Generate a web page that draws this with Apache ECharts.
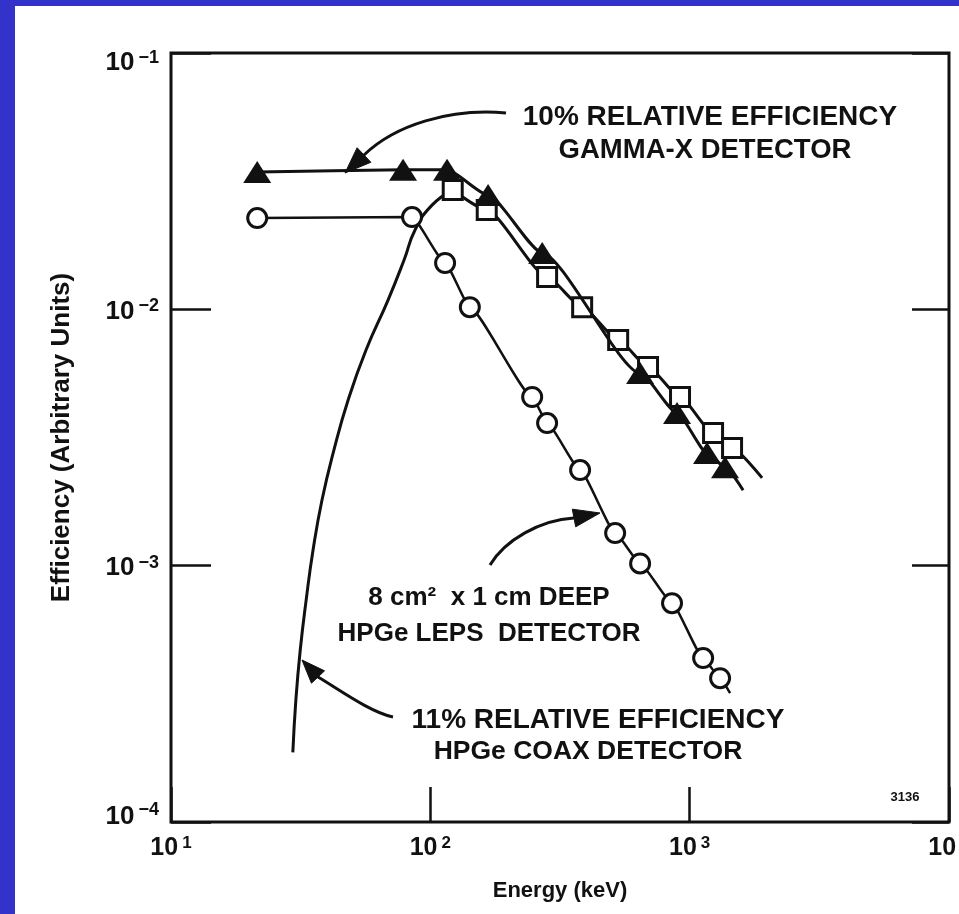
<!DOCTYPE html>
<html>
<head>
<meta charset="utf-8">
<script src="https://cdn.jsdelivr.net/npm/echarts@6/dist/echarts.min.js"></script>
<style>
html,body{margin:0;padding:0;background:#3333cc;width:959px;height:914px;overflow:hidden}
#c{position:absolute;left:15px;top:6px;width:944px;height:908px;background:#ffffff}
</style>
</head>
<body>
<div id="c"></div>
<script>
// ---------------- data ----------------
const energyTicks = [10, 100, 1000, 10000];
const effTicks = [1e-4, 1e-3, 1e-2, 1e-1];

// 10% relative efficiency GAMMA-X detector (filled triangles)
const gammaXEnergy = [21.5, 78.5, 116, 167, 270, 644, 894, 1167, 1369];
const gammaXEff    = [0.0343, 0.0350, 0.0350, 0.0279, 0.0166, 0.00564, 0.00394, 0.00275, 0.00242];
const gammaXLineEnd = [1607, 0.00197];

// 11% relative efficiency HPGe COAX detector: rising curve (no markers) ...
const coaxCurveEnergy = [29.5, 30.3, 31.5, 33.2, 35.3, 38.2, 42.5, 48.2, 56.5, 68.7, 79.2, 87.3, 101.5];
const coaxCurveEff    = [0.000187, 0.000299, 0.000468, 0.000734, 0.00115, 0.0018, 0.00283, 0.00443, 0.00694, 0.01087, 0.01558, 0.0204, 0.0255];
// ... then open squares
const coaxEnergy = [122, 165, 282, 385, 530, 691, 918, 1231, 1457];
const coaxEff    = [0.0292, 0.0244, 0.01336, 0.0102, 0.00759, 0.00596, 0.00455, 0.00329, 0.00288];
const coaxLineEnd = [1902, 0.0022];

// 8 cm2 x 1 cm deep HPGe LEPS detector (open circles)
const lepsEnergy = [21.5, 85, 114, 142, 247, 282, 378, 516, 644, 855, 1127, 1310];
const lepsEff    = [0.0227, 0.0229, 0.01516, 0.0102, 0.00455, 0.0036, 0.00236, 0.00134, 0.00102, 0.000714, 0.000436, 0.000364];
const lepsLineEnd = [1432, 0.000318];

// ---------------- chart ----------------
const FONT = '"Liberation Sans", Arial, Helvetica, sans-serif';
const INK = '#111111';
const chart = echarts.init(document.getElementById('c'), null, {renderer: 'canvas'});

function pts(xs, ys) { return xs.map((x, i) => [x, ys[i]]); }
function bare(p) { return {value: p, symbol: 'none'}; }

const gammaData = pts(gammaXEnergy, gammaXEff).concat([bare(gammaXLineEnd)]);
const coaxCurveData = pts(coaxCurveEnergy, coaxCurveEff).concat([[coaxEnergy[0], coaxEff[0]]]).map(bare);
const coaxData = pts(coaxEnergy, coaxEff).concat([bare(coaxLineEnd)]);
const lepsData = pts(lepsEnergy, lepsEff).concat([bare(lepsLineEnd)]);

// page -> container coordinates (container is offset by the blue frame)
const OX = 15, OY = 6;
function P(x, y) { return [x - OX, y - OY]; }

function txt(s, cx, cy, size) {
  const p = P(cx, cy);
  return {type: 'text', x: p[0], y: p[1], z: 10,
    style: {text: s, fill: INK, font: 'bold ' + size + 'px ' + FONT, align: 'center', verticalAlign: 'middle'}};
}
function arrow(start, c1, c2, base, tip, w) {
  const s = P(...start), a = P(...c1), b = P(...c2), e = P(...base), t = P(...tip);
  const dx = t[0] - e[0], dy = t[1] - e[1], L = Math.hypot(dx, dy);
  const nx = -dy / L * w / 2, ny = dx / L * w / 2;
  return [
    {type: 'bezierCurve', z: 10, shape: {x1: s[0], y1: s[1], cpx1: a[0], cpy1: a[1], cpx2: b[0], cpy2: b[1], x2: e[0], y2: e[1]},
     style: {stroke: INK, lineWidth: 3, fill: null}},
    {type: 'polygon', z: 10, shape: {points: [t, [e[0] + nx, e[1] + ny], [e[0] - nx, e[1] - ny]]},
     style: {fill: INK, stroke: INK, lineWidth: 1}}
  ];
}

const yRich = {};
[['t', [20, 0, 0, 0], [10, 0, 0, 4]], ['n', [4, 0, 0, 0], [0, 0, 6, 4]], ['m', [0, 0, 10, 0], [0, 0, 24, 4]]]
  .forEach(([k, pb, ps]) => {
    yRich['b' + k] = {fontSize: 26, fontWeight: 'bold', fontFamily: FONT, color: INK, lineHeight: 26, padding: pb};
    yRich['s' + k] = {fontSize: 18, fontWeight: 'bold', fontFamily: FONT, color: INK, lineHeight: 18, padding: ps};
  });

const markerStyle = {color: '#ffffff', borderColor: INK, borderWidth: 3};

const option = {
  animation: false,
  backgroundColor: '#ffffff',
  grid: {left: 156, top: 47, right: 10, bottom: 92, outerBoundsMode: 'none', containLabel: false,
         show: true, borderColor: INK, borderWidth: 3, backgroundColor: 'transparent'},
  xAxis: {
    type: 'log', logBase: 10, min: energyTicks[0], max: energyTicks[energyTicks.length - 1],
    axisLine: {show: false},
    axisTick: {show: true, inside: true, length: 35, lineStyle: {color: INK, width: 2.5}},
    splitLine: {show: false}, minorTick: {show: false},
    axisLabel: {
      margin: 13, showMinLabel: true, showMaxLabel: true, hideOverlap: false,
      formatter: v => '{b|10}{s|' + Math.round(Math.log10(v)) + '}',
      rich: {
        b: {fontSize: 25, fontWeight: 'bold', fontFamily: FONT, color: INK, lineHeight: 26},
        s: {fontSize: 17, fontWeight: 'bold', fontFamily: FONT, color: INK, lineHeight: 16, padding: [0, 0, 10, 4]}
      }
    },
    name: 'Energy (keV)', nameLocation: 'middle', nameGap: 58,
    nameTextStyle: {fontSize: 22, fontWeight: 'bold', fontFamily: FONT, color: INK}
  },
  yAxis: [{
    type: 'log', logBase: 10, min: effTicks[0], max: effTicks[effTicks.length - 1], position: 'left',
    axisLine: {show: false},
    axisTick: {show: true, inside: true, length: 40, lineStyle: {color: INK, width: 2.5}},
    splitLine: {show: false}, minorTick: {show: false},
    axisLabel: {
      margin: 12, showMinLabel: true, showMaxLabel: true, hideOverlap: false,
      formatter: v => {
        const e = Math.round(Math.log10(v));
        const k = e === -1 ? 't' : (e === -4 ? 'm' : 'n');
        return '{b' + k + '|10}{s' + k + '|\u2212' + (-e) + '}';
      },
      rich: yRich
    },
    name: 'Efficiency (Arbitrary Units)', nameLocation: 'middle', nameGap: 96, nameRotate: 90,
    nameTextStyle: {fontSize: 26, fontWeight: 'bold', fontFamily: FONT, color: INK}
  }, {
    type: 'log', logBase: 10, min: effTicks[0], max: effTicks[effTicks.length - 1], position: 'right',
    axisLine: {show: false},
    axisTick: {show: true, inside: true, length: 37, lineStyle: {color: INK, width: 2.5}},
    splitLine: {show: false}, minorTick: {show: false},
    axisLabel: {show: false}
  }],
  series: [
    {
      name: '11% HPGe COAX curve', type: 'line', data: coaxCurveData, z: 2,
      symbol: 'none', smooth: 0.5,
      lineStyle: {color: INK, width: 3}, emphasis: {disabled: true}
    },
    {
      name: '11% HPGe COAX', type: 'line', data: coaxData, z: 2,
      symbol: 'rect', symbolSize: 19, showAllSymbol: true, smooth: 0.2, smoothMonotone: 'x',
      lineStyle: {color: INK, width: 3}, itemStyle: markerStyle, emphasis: {disabled: true}
    },
    {
      name: 'HPGe LEPS', type: 'line', data: lepsData, z: 3,
      symbol: 'circle', symbolSize: 19, showAllSymbol: true, smooth: 0.15, smoothMonotone: 'x',
      lineStyle: {color: INK, width: 2.5}, itemStyle: markerStyle, emphasis: {disabled: true}
    },
    {
      name: '10% GAMMA-X', type: 'line', data: gammaData, z: 4,
      symbol: 'triangle', symbolSize: [28, 22], showAllSymbol: true, smooth: 0.2, smoothMonotone: 'x',
      lineStyle: {color: INK, width: 3}, itemStyle: {color: INK}, emphasis: {disabled: true}
    }
  ],
  graphic: [
    txt('10% RELATIVE EFFICIENCY', 710, 117, 28),
    txt('GAMMA-X DETECTOR', 705, 150, 27.5),
    txt('8 cm\u00B2  x 1 cm DEEP', 489, 598, 26),
    txt('HPGe LEPS  DETECTOR', 489, 634, 26),
    txt('11% RELATIVE EFFICIENCY', 598, 720, 28),
    txt('HPGe COAX DETECTOR', 588, 752, 26.5),
    txt('3136', 905, 797, 13)
  ].concat(
    arrow([506, 113], [450, 108], [395, 125], [364, 155], [345, 173], 20),
    arrow([490, 565], [505, 540], [540, 520], [574, 518], [600, 513], 18),
    arrow([393, 717], [370, 712], [340, 690], [318, 677], [302, 660], 18)
  )
};
chart.setOption(option);
</script>
</body>
</html>
